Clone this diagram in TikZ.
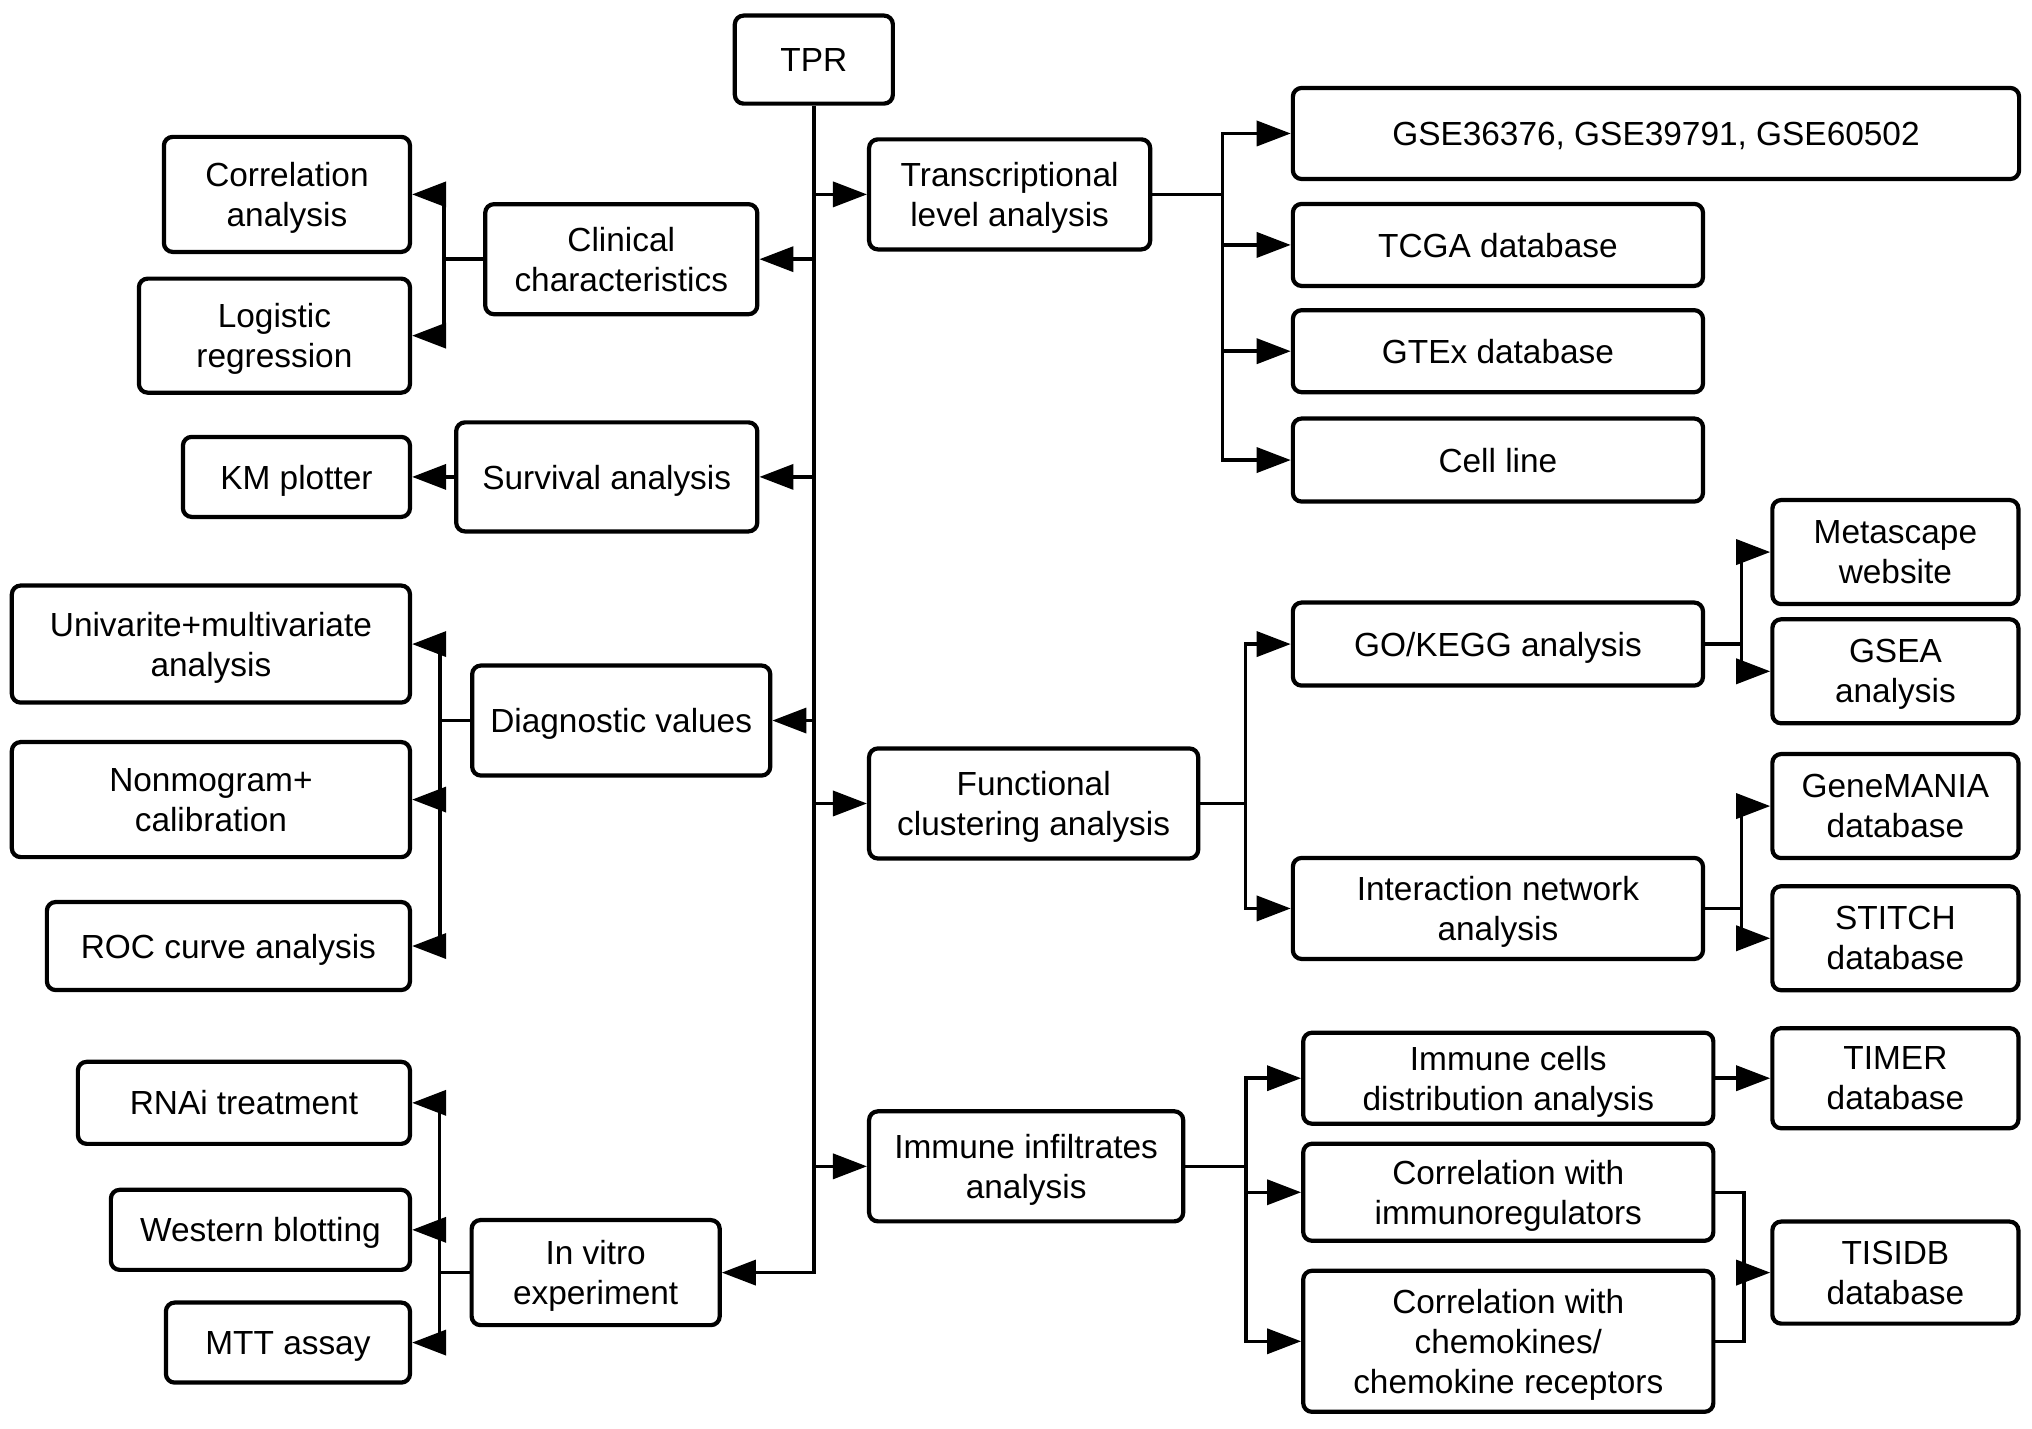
\documentclass[tikz,border=0pt]{standalone}
\usepackage{fontspec}
\setmainfont{Liberation Sans}
\usetikzlibrary{arrows.meta,positioning}
\tikzstyle{box} = [draw,line width=1.2pt,rounded corners=2.5pt,align=center,inner sep=2pt,text depth=-2pt,font=\fontsize{9.5}{11.4}\selectfont]
\tikzset{>={Triangle[length=0.34cm,width=0.25cm]}}

\begin{document}
\begin{tikzpicture}[x=0.01296cm,y=-0.01296cm,line width=1pt]
    \useasboundingbox (0,0) rectangle (1568,1102);
    \node [box,minimum width=1.58cm,minimum height=0.88cm] (tpr) at (628,46) {TPR};
    % left side
    \node [box,anchor=east,minimum width=2.72cm,minimum height=1.10cm] (clin) at (586,200) {Clinical\\characteristics};
    \node [box,anchor=east,minimum width=2.46cm,minimum height=1.15cm] (corr) at (318,150) {Correlation\\analysis};
    \node [box,anchor=east,minimum width=2.71cm,minimum height=1.14cm] (logi) at (318,259) {Logistic\\regression};
    \node [box,anchor=east,minimum width=3.01cm,minimum height=1.09cm] (surv) at (586,368) {Survival analysis};
    \node [box,anchor=east,minimum width=2.27cm,minimum height=0.80cm] (km) at (318,368) {KM plotter};
    \node [box,anchor=east,minimum width=2.98cm,minimum height=1.10cm] (diag) at (596,556) {Diagnostic values};
    \node [box,anchor=east,minimum width=3.98cm,minimum height=1.17cm] (univ) at (318,497) {Univarite+multivariate\\analysis};
    \node [box,anchor=east,minimum width=3.98cm,minimum height=1.15cm] (nomo) at (318,617) {Nonmogram+\\calibration};
    \node [box,anchor=east,minimum width=3.63cm,minimum height=0.88cm] (roc) at (318,730) {ROC curve analysis};
    \node [box,anchor=east,minimum width=2.48cm,minimum height=1.05cm] (vitro) at (557,982) {In vitro\\experiment};
    \node [box,anchor=east,minimum width=3.32cm,minimum height=0.82cm] (rnai) at (318,851) {RNAi treatment};
    \node [box,anchor=east,minimum width=2.99cm,minimum height=0.80cm] (wb) at (318,949) {Western blotting};
    \node [box,anchor=east,minimum width=2.44cm,minimum height=0.80cm] (mtt) at (318,1036) {MTT assay};
    % right side
    \node [box,anchor=west,minimum width=2.81cm,minimum height=1.10cm] (trans) at (669,150) {Transcriptional\\level analysis};
    \node [box,anchor=west,minimum width=7.26cm,minimum height=0.91cm] (gse) at (996,103) {GSE36376, GSE39791, GSE60502};
    \node [box,anchor=west,minimum width=4.10cm,minimum height=0.82cm] (tcga) at (996,189) {TCGA database};
    \node [box,anchor=west,minimum width=4.10cm,minimum height=0.82cm] (gtex) at (996,271) {GTEx database};
    \node [box,anchor=west,minimum width=4.10cm,minimum height=0.83cm] (cell) at (996,355) {Cell line};
    \node [box,anchor=west,minimum width=3.29cm,minimum height=1.10cm] (func) at (669,620) {Functional\\clustering analysis};
    \node [box,anchor=west,minimum width=4.10cm,minimum height=0.83cm] (go) at (996,497) {GO/KEGG analysis};
    \node [box,anchor=west,minimum width=4.10cm,minimum height=1.01cm] (inter) at (996,701) {Interaction network\\analysis};
    \node [box,anchor=west,minimum width=2.46cm,minimum height=1.04cm] (meta) at (1366,426) {Metascape\\website};
    \node [box,anchor=west,minimum width=2.46cm,minimum height=1.04cm] (gsea) at (1366,518) {GSEA\\analysis};
    \node [box,anchor=west,minimum width=2.46cm,minimum height=1.04cm] (gmania) at (1366,622) {GeneMANIA\\database};
    \node [box,anchor=west,minimum width=2.46cm,minimum height=1.04cm] (stitch) at (1366,724) {STITCH\\database};
    \node [box,anchor=west,minimum width=3.14cm,minimum height=1.10cm] (immu) at (669,900) {Immune infiltrates\\analysis};
    \node [box,anchor=west,minimum width=4.10cm,minimum height=0.91cm] (icell) at (1004,832) {Immune cells\\distribution analysis};
    \node [box,anchor=west,minimum width=4.10cm,minimum height=0.97cm] (ireg) at (1004,920) {Correlation with\\immunoregulators};
    \node [box,anchor=west,minimum width=4.10cm,minimum height=1.41cm] (chem) at (1004,1035) {Correlation with\\chemokines/\\chemokine receptors};
    \node [box,anchor=west,minimum width=2.46cm,minimum height=1.00cm] (timer) at (1366,832) {TIMER\\database};
    \node [box,anchor=west,minimum width=2.46cm,minimum height=1.02cm] (tisidb) at (1366,982) {TISIDB\\database};
    % trunk
    \draw [->] (tpr.south) |- (vitro.east);
    \draw [->] (tpr.south |- trans.west) -- (trans.west);
    \draw [->] (tpr.south |- clin.east) -- (clin.east);
    \draw [->] (tpr.south |- surv.east) -- (surv.east);
    \draw [->] (tpr.south |- diag.east) -- (diag.east);
    \draw [->] (tpr.south |- func.west) -- (func.west);
    \draw [->] (tpr.south |- immu.west) -- (immu.west);
    % left branches
    \draw [->] (clin.west) -- ++(-30,0) |- (corr.east);
    \draw [->] (clin.west) -- ++(-30,0) |- (logi.east);
    \draw [->] (surv.west) -- (km.east);
    \draw [->] (diag.west) -- ++(-23,0) |- (univ.east);
    \draw [->] (diag.west) -- ++(-23,0) |- (nomo.east);
    \draw [->] (diag.west) -- ++(-23,0) |- (roc.east);
    \draw [->] (vitro.west) -- ++(-23,0) |- (rnai.east);
    \draw [->] (vitro.west) -- ++(-23,0) |- (wb.east);
    \draw [->] (vitro.west) -- ++(-23,0) |- (mtt.east);
    % right branches
    \draw [->] (trans.east) -- ++(54,0) |- (gse.west);
    \draw [->] (trans.east) -- ++(54,0) |- (tcga.west);
    \draw [->] (trans.east) -- ++(54,0) |- (gtex.west);
    \draw [->] (trans.east) -- ++(54,0) |- (cell.west);
    \draw [->] (func.east) -- ++(35,0) |- (go.west);
    \draw [->] (func.east) -- ++(35,0) |- (inter.west);
    \draw [->] (go.east) -- ++(28,0) |- (meta.west);
    \draw [->] (go.east) -- ++(28,0) |- (gsea.west);
    \draw [->] (inter.east) -- ++(28,0) |- (gmania.west);
    \draw [->] (inter.east) -- ++(28,0) |- (stitch.west);
    \draw [->] (immu.east) -- ++(47,0) |- (icell.west);
    \draw [->] (immu.east) -- ++(47,0) |- (ireg.west);
    \draw [->] (immu.east) -- ++(47,0) |- (chem.west);
    \draw [->] (icell.east) -- (icell.east -| timer.west);
    \draw (ireg.east) -- ++(22,0) coordinate (t1) |- (chem.east);
    \draw [->] (t1 |- tisidb.west) -- (tisidb.west);
  \end{tikzpicture}
\end{document}
